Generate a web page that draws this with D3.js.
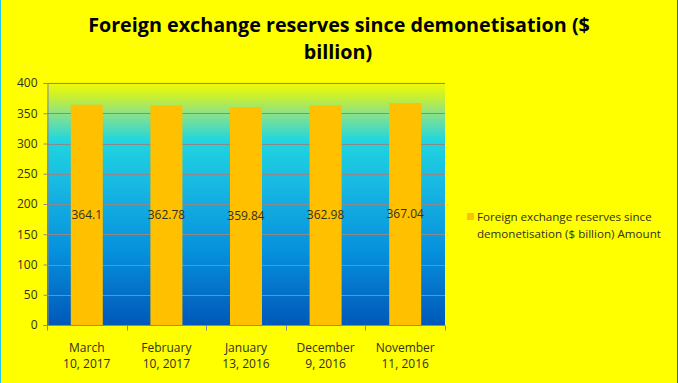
<!DOCTYPE html>
<html><head><meta charset="utf-8">
<script src="https://cdn.jsdelivr.net/npm/d3@7"></script>
<style>html,body{margin:0;padding:0;background:#ffff00;}svg{display:block;}</style>
</head><body>
<script>
const categories = [["March","10, 2017"],["February","10, 2017"],["January","13, 2016"],["December","9, 2016"],["November","11, 2016"]];
const values = [364.1, 362.78, 359.84, 362.98, 367.04];
const labels = ["364.1","362.78","359.84","362.98","367.04"];
const yTicks = [0,50,100,150,200,250,300,350,400];
const titleLines = ["Foreign exchange reserves since demonetisation ($","billion)"];
const legendLines = ["Foreign exchange reserves since","demonetisation  ($ billion)  Amount"];

const W = 678, H = 383;
const svg = d3.select("body").append("svg").attr("width", W).attr("height", H);
svg.append("rect").attr("width", W).attr("height", H).attr("fill", "#ffff00");
svg.append("line").attr("x1",0.5).attr("x2",0.5).attr("y1",0).attr("y2",H).attr("stroke","#20c8f0");
svg.append("line").attr("x1",W-0.5).attr("x2",W-0.5).attr("y1",0).attr("y2",H).attr("stroke","#1070c0");

const m = {l:47, r:445, t:83, b:325};
const x = d3.scaleBand().domain(d3.range(categories.length)).range([m.l, m.r]).paddingInner(0).paddingOuter(0);
const y = d3.scaleLinear().domain([0,400]).range([m.b, m.t]);

const defs = svg.append("defs");
const g = defs.append("linearGradient").attr("id","bg").attr("x1",0).attr("y1",0).attr("x2",0).attr("y2",1);
[[0,"#f4fa06"],[0.06,"#c8f030"],[0.13,"#8ce288"],[0.24,"#20d6e0"],[0.45,"#16b4e2"],[0.7,"#0690dc"],[1,"#0058b8"]]
  .forEach(([o,c]) => g.append("stop").attr("offset",o).attr("stop-color",c));
svg.append("rect").attr("x",m.l).attr("y",m.t-1).attr("width",m.r-m.l).attr("height",m.b-m.t+1).attr("fill","url(#bg)");

// gridlines
svg.append("g").selectAll("line").data(yTicks.filter(d=>d>0)).join("line")
  .attr("x1",m.l).attr("x2",m.r).attr("y1",d=>Math.round(y(d))+0.5).attr("y2",d=>Math.round(y(d))+0.5)
  .attr("stroke","#8a8a8a").attr("stroke-width",1);

// y axis
const ya = svg.append("g").attr("transform",`translate(${m.l+0.5},0)`)
  .call(d3.axisLeft(y).tickValues(yTicks).tickSize(4).tickPadding(6).tickFormat(d3.format("d")));
ya.select(".domain").attr("stroke","#8a8a8a");
ya.selectAll(".tick line").attr("stroke","#8a8a8a");
ya.selectAll("text").attr("font-family","'Open Sans', sans-serif").attr("font-size",12).attr("fill","#303020");

// bars
const bw = 32;
svg.append("g").selectAll("rect").data(values).join("rect")
  .attr("x",(d,i)=>x(i)+x.bandwidth()/2-bw/2).attr("width",bw)
  .attr("y",d=>y(d)).attr("height",d=>y(0)-y(d)).attr("fill","#ffc000");

svg.append("g").selectAll("text").data(values).join("text")
  .attr("x",(d,i)=>x(i)+x.bandwidth()/2).attr("y",d=>(y(d)+y(0))/2+4)
  .attr("text-anchor","middle").attr("font-family","'Open Sans', sans-serif").attr("font-size",12)
  .attr("fill","#303020").text((d,i)=>labels[i]);

// x axis
const xa = svg.append("g").attr("transform",`translate(0,${m.b+0.5})`);
xa.append("line").attr("x1",m.l).attr("x2",m.r).attr("stroke","#8a8a8a");
const bounds = d3.range(categories.length+1).map(i=> i<categories.length ? x(i) : m.r);
xa.selectAll("line.t").data(bounds).join("line").attr("class","t")
  .attr("x1",d=>Math.round(d)+0.5).attr("x2",d=>Math.round(d)+0.5).attr("y1",0).attr("y2",5).attr("stroke","#8a8a8a");
const xl = xa.selectAll("text").data(categories).join("text")
  .attr("text-anchor","middle").attr("font-family","'Open Sans', sans-serif").attr("font-size",12).attr("fill","#303020");
xl.each(function(d,i){
  const t = d3.select(this);
  d.forEach((s,k)=> t.append("tspan").attr("x",x(i)+x.bandwidth()/2).attr("y",26+k*16).text(s));
});

// title
const tt = svg.append("g").attr("font-family","'Open Sans', sans-serif").attr("font-weight","bold").attr("fill","#000");
const t1 = tt.append("text").attr("x",338).attr("y",32).attr("text-anchor","middle").attr("font-size",19).text(titleLines[0]);
const t2 = tt.append("text").attr("x",338).attr("y",59).attr("text-anchor","middle").attr("font-size",19).text(titleLines[1]);
const w1 = t1.node().getComputedTextLength();
const fs = 19 * 502 / w1;
t1.attr("font-size",fs); t2.attr("font-size",fs);
t1.attr("x", 88 + 502/2);

// legend
svg.append("rect").attr("x",467).attr("y",213).attr("width",7).attr("height",7).attr("fill","#ffc000");
svg.append("g").selectAll("text").data(legendLines).join("text")
  .attr("x",477).attr("y",(d,i)=>221+i*17).attr("font-family","'Open Sans', sans-serif").attr("font-size",11.6)
  .attr("fill","#303020").text(d=>d);
</script>
</body></html>
